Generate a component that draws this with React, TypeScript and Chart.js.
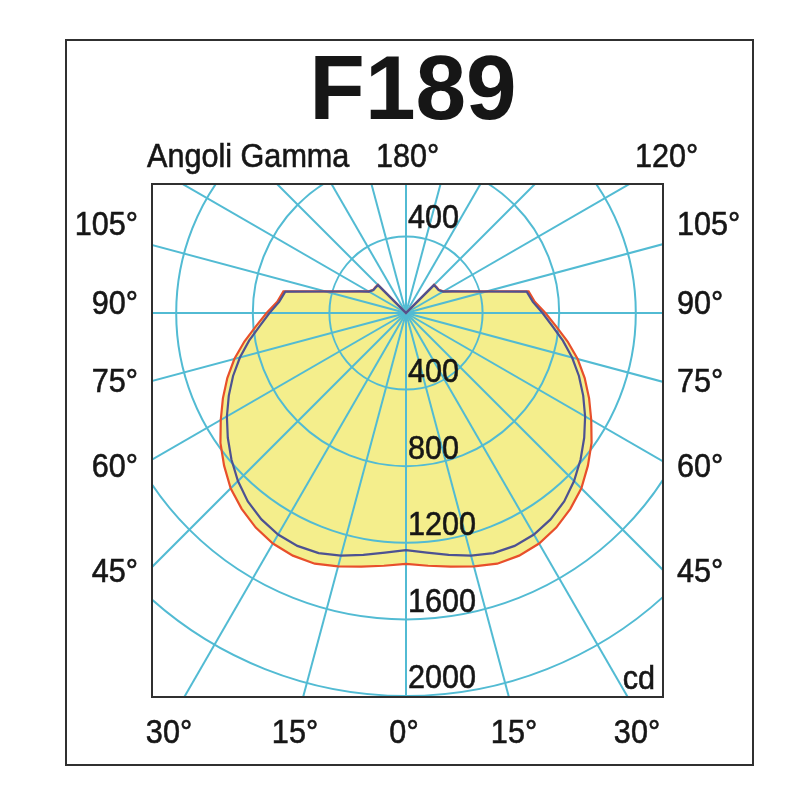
import React, { useEffect, useRef } from 'react';
import { Chart, registerables } from 'chart.js';

Chart.register(...registerables);

// ---------------- DATA ----------------
const GAMMA_DEG = [
  0, 5, 10, 15, 20, 25, 30, 35, 40, 45, 50, 55, 60, 65, 70, 75, 80, 85, 90,
  95, 100, 105, 110, 115, 120, 125, 130, 135, 140, 145, 150, 155, 160, 165, 170, 175, 180,
];
// Plane C0-C180 (red, outer curve, filled)
const INTENSITY_C0_C180 = [
  1310, 1325, 1345, 1370, 1393, 1398, 1390, 1368, 1335, 1295, 1240, 1183, 1117, 1055, 993, 928, 857, 786, 728,
  675, 650, 438, 331, 268, 226, 210, 209, 208, 0, 0, 0, 0, 0, 0, 0, 0, 0,
];
// Plane C90-C270 (blue, inner curve)
const INTENSITY_C90_C270 = [
  1238, 1256, 1283, 1312, 1334, 1342, 1336, 1316, 1285, 1241, 1190, 1136, 1080, 1021, 961, 898, 832, 766, 713,
  665, 640, 434, 328, 266, 224, 208, 207, 206, 0, 0, 0, 0, 0, 0, 0, 0, 0,
];
const RADIAL_TICKS = [400, 800, 1200, 1600, 2000];
const TOP_TICK = 400;
const TITLE = 'F189';
const CAPTION = 'Angoli Gamma';
const TOP_ANGLE_LABELS = ['180°', '120°'];
const SIDE_ANGLE_LABELS = ['105°', '90°', '75°', '60°', '45°'];
const BOTTOM_ANGLE_LABELS = ['30°', '15°', '0°', '15°', '30°'];
const UNIT = 'cd';

// ---------------- LAYOUT / STYLE ----------------
const W = 800;
const H = 800;
const CX = 406;
const CY = 313;
const R_GRID_MAX = 2000;
const PX_PER_CD = 383 / 2000;
const R_MAX = 2600;
const SPOKE_STEP = 15;
const BOX = { l: 152, t: 184, r: 663, b: 697 };
const FRAME = { l: 66, t: 40, r: 753, b: 765 };
const GRID_COLOR = '#52bbd3';
const FILL_COLOR = '#f4ee8c';
const RED = '#e84f2b';
const BLUE = '#4d5292';
const TEXT = '#161616';
const FONT = '"Liberation Sans", Arial, Helvetica, sans-serif';
const SIDE_LABEL_Y = [226, 305, 383, 468, 573];
const BOTTOM_LABEL_X = [169, 295, 404, 514, 637];
const TOP_LABEL_X = [376, 635];

const N = GAMMA_DEG.length - 1;
const gammaAt = (i: number) => (i <= N ? GAMMA_DEG[i] : GAMMA_DEG[2 * N - i]);
const fullCircle = (half: number[]) =>
  Array.from({ length: 2 * N }, (_, i) => (i <= N ? half[i] : half[2 * N - i]));
const LABELS = Array.from({ length: 2 * N }, (_, i) => `${gammaAt(i)}°`);

let gridPass = false;

function drawText(
  ctx: CanvasRenderingContext2D,
  text: string,
  x: number,
  y: number,
  size: number,
  align: CanvasTextAlign,
  bold = false,
  sx = 0.9
) {
  ctx.save();
  ctx.translate(x, y);
  ctx.scale(sx, 1);
  ctx.font = `${bold ? 'bold ' : ''}${size}px ${FONT}`;
  ctx.fillStyle = TEXT;
  ctx.strokeStyle = TEXT;
  ctx.lineWidth = bold ? 0 : 0.6;
  ctx.textAlign = align;
  ctx.textBaseline = 'middle';
  ctx.fillText(text, 0, 0);
  if (!bold) ctx.strokeText(text, 0, 0);
  ctx.restore();
}

const decorPlugin = {
  id: 'decor',
  beforeDraw(chart: any) {
    const ctx = chart.ctx as CanvasRenderingContext2D;
    ctx.save();
    ctx.fillStyle = '#ffffff';
    ctx.fillRect(0, 0, W, H);
    ctx.restore();
    ctx.save();
    ctx.beginPath();
    ctx.rect(BOX.l, BOX.t, BOX.r - BOX.l, BOX.b - BOX.t);
    ctx.clip();
  },
  afterDatasetDraw(chart: any, args: any) {
    if (args.index === 0) {
      gridPass = true;
      chart.scales.r.drawGrid();
      gridPass = false;
    }
  },
  afterDraw(chart: any) {
    const ctx = chart.ctx as CanvasRenderingContext2D;
    ctx.restore();
    const scale = chart.scales.r;

    // frames
    ctx.save();
    ctx.strokeStyle = '#303030';
    ctx.lineWidth = 2;
    ctx.strokeRect(FRAME.l, FRAME.t, FRAME.r - FRAME.l, FRAME.b - FRAME.t);
    ctx.strokeRect(BOX.l, BOX.t, BOX.r - BOX.l, BOX.b - BOX.t);
    ctx.restore();

    // title and captions
    drawText(ctx, TITLE, 413, 94, 91, 'center', true, 1.0);
    drawText(ctx, CAPTION, 147, 158, 34, 'left');
    TOP_ANGLE_LABELS.forEach((t, i) => drawText(ctx, t, TOP_LABEL_X[i], 158, 34, 'left'));
    SIDE_ANGLE_LABELS.forEach((t, i) => {
      drawText(ctx, t, 138, SIDE_LABEL_Y[i], 34, 'right');
      drawText(ctx, t, 677, SIDE_LABEL_Y[i], 34, 'left');
    });
    BOTTOM_ANGLE_LABELS.forEach((t, i) => drawText(ctx, t, BOTTOM_LABEL_X[i], 734, 34, 'center'));

    // radial tick labels
    const tx = scale.xCenter + 2;
    RADIAL_TICKS.forEach((v) => {
      const d = scale.getDistanceFromCenterForValue(v);
      drawText(ctx, String(v), tx, scale.yCenter + d - 17, 34, 'left');
    });
    const dTop = scale.getDistanceFromCenterForValue(TOP_TICK);
    drawText(ctx, String(TOP_TICK), tx, scale.yCenter - dTop - 18, 34, 'left');
    drawText(ctx, UNIT, 655, 680, 34, 'right');
  },
};

export default function App() {
  const ref = useRef<HTMLCanvasElement>(null);
  useEffect(() => {
    if (!ref.current) return;
    const chart = new Chart(ref.current, {
      type: 'radar',
      data: {
        labels: LABELS,
        datasets: [
          {
            label: 'fill',
            data: fullCircle(INTENSITY_C0_C180),
            backgroundColor: FILL_COLOR,
            borderColor: 'rgba(0,0,0,0)',
            borderWidth: 0,
            fill: 'origin',
            pointRadius: 0,
            order: 3,
          },
          {
            label: 'C0-C180',
            data: fullCircle(INTENSITY_C0_C180),
            borderColor: RED,
            borderWidth: 2.2,
            fill: false,
            pointRadius: 0,
            order: 2,
          },
          {
            label: 'C90-C270',
            data: fullCircle(INTENSITY_C90_C270),
            borderColor: BLUE,
            borderWidth: 2.2,
            fill: false,
            pointRadius: 0,
            order: 1,
          },
        ],
      },
      options: {
        responsive: false,
        maintainAspectRatio: false,
        animation: false,
        devicePixelRatio: 1,
        layout: { padding: 0 },
        elements: { line: { tension: 0 } },
        plugins: {
          legend: { display: false },
          tooltip: { enabled: false },
          title: { display: false },
        },
        scales: {
          r: {
            min: 0,
            max: R_MAX,
            startAngle: 180,
            ticks: { display: false, stepSize: 400 },
            pointLabels: { display: false },
            grid: {
              circular: true,
              lineWidth: 2,
              color: (c: any) =>
                gridPass && c.tick && c.tick.value > 0 && c.tick.value <= R_GRID_MAX ? GRID_COLOR : 'rgba(0,0,0,0)',
            },
            angleLines: {
              lineWidth: 2,
              color: (c: any) =>
                gridPass && gammaAt(c.index) % SPOKE_STEP === 0 ? GRID_COLOR : 'rgba(0,0,0,0)',
            },
            afterFit: (s: any) => {
              s.xCenter = CX;
              s.yCenter = CY;
              s.drawingArea = R_MAX * PX_PER_CD;
            },
          },
        },
      } as any,
      plugins: [decorPlugin],
    });
    return () => chart.destroy();
  }, []);

  return (
    <div style={{ position: 'absolute', left: 0, top: 0, width: W, height: H }}>
      <canvas ref={ref} width={W} height={H} style={{ display: 'block' }} />
    </div>
  );
}
